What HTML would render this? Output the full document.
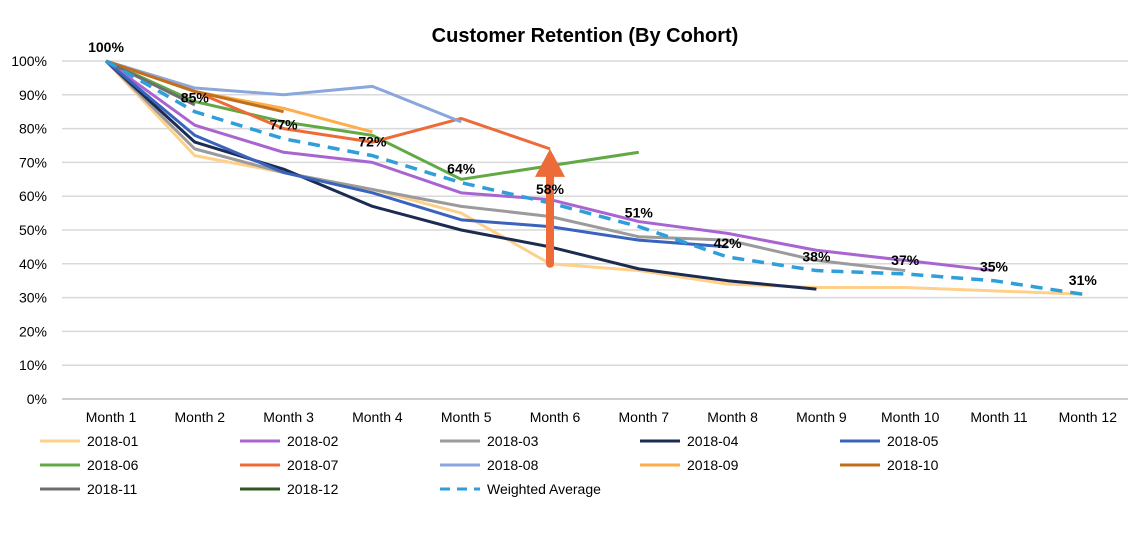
<!DOCTYPE html>
<html><head><meta charset="utf-8"><style>
html,body{margin:0;padding:0;background:#fff;}
svg text{font-family:"Liberation Sans",Arial,sans-serif;}
</style></head><body>
<svg id="chart" width="1142" height="534" viewBox="0 0 1142 534" xmlns="http://www.w3.org/2000/svg">
<text x="585" y="42" text-anchor="middle" font-size="20" font-weight="bold">Customer Retention (By Cohort)</text>
<g id="grid"></g><g id="yticks"></g><g id="xticks"></g><g id="series"></g><g id="labels"></g><g id="legend"></g>
</svg>
<script>
const categories=["Month 1","Month 2","Month 3","Month 4","Month 5","Month 6","Month 7","Month 8","Month 9","Month 10","Month 11","Month 12"];
const yTicks=[0,10,20,30,40,50,60,70,80,90,100];
const c201801=[100,72,67,62,55,40,38,34,33,33,32,31];
const c201802=[100,81,73,70,61,59,52.5,49,44,41,38];
const c201803=[100,74,67,62,57,54,48,47,41,38];
const c201804=[100,76,68,57,50,45,38.5,35,32.5];
const c201805=[100,78,67,61,53,51,47,45];
const c201806=[100,88,82,78,65,69,73];
const c201807=[100,91,80,76,83,74];
const c201808=[100,92,90,92.5,82];
const c201809=[100,91,86,79];
const c201810=[100,91,85];
const c201811=[100,87];
const c201812=[100];
const weighted=[100,85,77,72,64,58,51,42,38,37,35,31];
const seriesNames=["2018-01","2018-02","2018-03","2018-04","2018-05","2018-06","2018-07","2018-08","2018-09","2018-10","2018-11","2018-12","Weighted Average"];
const seriesData=[c201801,c201802,c201803,c201804,c201805,c201806,c201807,c201808,c201809,c201810,c201811,c201812,weighted];
const colors=["#FFD08A","#A865D2","#9B9B9B","#1C2B52","#3A63BE","#62A845","#EC6B38","#8AA6DC","#FDAE4B","#C06F1E","#6E6E6E","#2E5A22","#2E9FD8"];
const arrowFrom=40, arrowTo=74, arrowMonth=5;
const NS="http://www.w3.org/2000/svg";
const X=i=>106+i*88.8;
const Y=v=>399-v*3.38;
function mk(tag,attrs,parent){const e=document.createElementNS(NS,tag);for(const k in attrs)e.setAttribute(k,attrs[k]);parent.appendChild(e);return e;}
const grid=document.getElementById('grid'),yt=document.getElementById('yticks'),xt=document.getElementById('xticks'),ser=document.getElementById('series'),lab=document.getElementById('labels'),leg=document.getElementById('legend');
yTicks.forEach(t=>{
 const l=mk('line',{x1:62,x2:1128,y1:Y(t),y2:Y(t),stroke:t===0?'#bfbfbf':'#d9d9d9','stroke-width':1.5},grid);
 
 
 const tx=mk('text',{x:47,y:Y(t)+5,'text-anchor':'end','font-size':14},yt);tx.textContent=t+'%';
 
 
});
categories.forEach((c,i)=>{
 const tx=mk('text',{x:X(i)+5,y:422,'text-anchor':'middle','font-size':14},xt);tx.textContent=c;
 
 
});
seriesData.forEach((d,s)=>{
 if(d.length<2)return;
 const pts=d.map((v,i)=>X(i)+','+Y(v)).join(' ');
 const p=mk('polyline',{points:pts,fill:'none',stroke:colors[s],'stroke-width':s===12?3.5:3,'stroke-linejoin':'round'},ser);
 if(s===12)p.setAttribute('stroke-dasharray','12 8');
 
 
});
// arrow
const ax=X(arrowMonth),ay1=Y(arrowFrom),ay2=Y(arrowTo);
const ash=mk('line',{x1:ax,x2:ax,y1:ay1,y2:ay2+25,stroke:'#EC6B38','stroke-width':8,'stroke-linecap':'round'},ser);


const ahd=mk('polygon',{points:`${ax},${ay2} ${ax-15},${ay2+28} ${ax+15},${ay2+28}`,fill:'#EC6B38'},ser);


weighted.forEach((v,i)=>{
 const tx=mk('text',{x:X(i),y:Y(v)-9,'text-anchor':'middle','font-size':14,'font-weight':'bold'},lab);tx.textContent=Math.round(v)+'%';
 
 
});
seriesNames.forEach((n,s)=>{
 const col=s%5,row=Math.floor(s/5);
 const lx=40+col*200,ly=441+row*24;
 const g=mk('g',{},leg);
 
 
 const ln=mk('line',{x1:lx,x2:lx+40,y1:ly,y2:ly,stroke:colors[s],'stroke-width':3},g);
 if(s===12)ln.setAttribute('stroke-dasharray','10 7');
 const tx=mk('text',{x:lx+47,y:ly+5,'font-size':14},g);tx.textContent=n;
});
</script>
</body></html>
